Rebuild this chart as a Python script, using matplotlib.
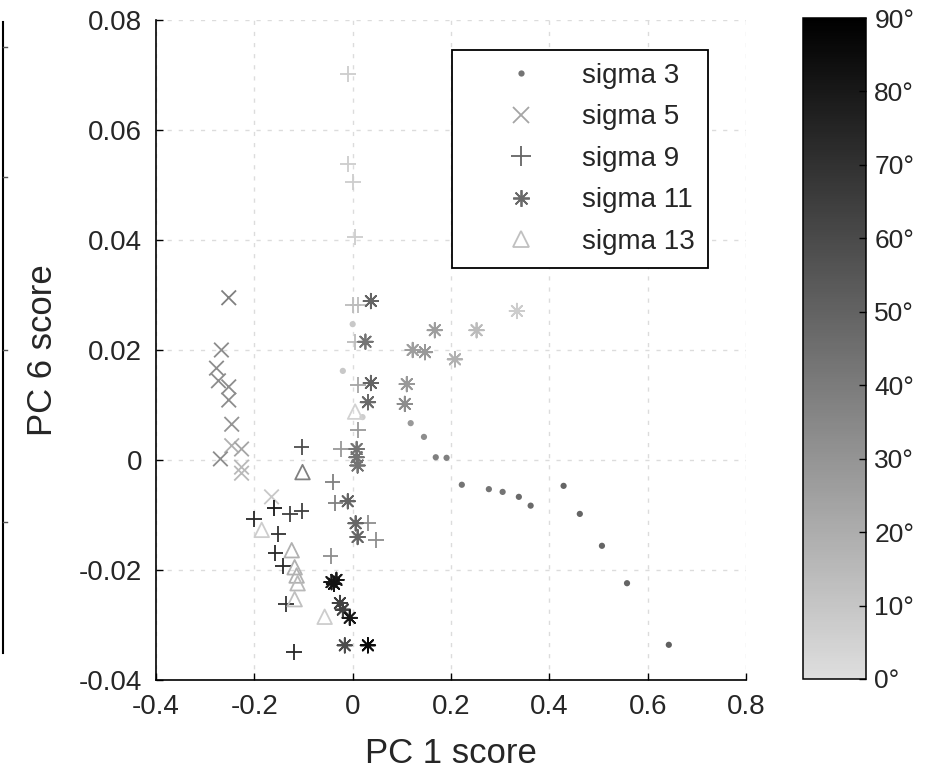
import numpy as np
import matplotlib
matplotlib.use('Agg')
import matplotlib.pyplot as plt
from matplotlib.colors import LinearSegmentedColormap, Normalize
from matplotlib.lines import Line2D
import matplotlib.cm as cm

plt.rcParams['font.family'] = ['Liberation Sans', 'DejaVu Sans']
plt.rcParams['axes.unicode_minus'] = False

# sigma 3 (dots)
s3_x = [0.000, -0.020, 0.020, 0.118, 0.145, 0.169, 0.191, 0.222, 0.277, 0.305,
        0.338, 0.362, 0.429, 0.462, 0.507, 0.558, 0.643]
s3_y = [0.0247, 0.0162, 0.0078, 0.0067, 0.0042, 0.0005, 0.0004, -0.0045, -0.0053, -0.0058,
        -0.0067, -0.0083, -0.0047, -0.0098, -0.0156, -0.0224, -0.0336]
s3_c = [9, 9, 7, 28, 33, 38, 38, 43, 43, 43, 47, 47, 49, 49, 49, 49, 51]

# sigma 5 (x)
s5_x = [-0.252, -0.267, -0.277, -0.273, -0.252, -0.252, -0.246, -0.246, -0.226,
        -0.269, -0.226, -0.226, -0.165]
s5_y = [0.0295, 0.0200, 0.0167, 0.0144, 0.0133, 0.0109, 0.0065, 0.0026, 0.0020,
        0.0002, -0.0013, -0.0024, -0.0067]
s5_c = [38, 33, 33, 33, 33, 33, 30, 18, 23, 33, 15, 15, 9]

# sigma 9 (+)
s9_x = [-0.010, -0.010, 0.000, 0.004, 0.000, 0.010, 0.004, 0.010, 0.010, -0.024,
        -0.041, -0.035, 0.031, 0.047, -0.045, -0.104, -0.159, -0.200, -0.128,
        -0.104, -0.151, -0.157, -0.141, -0.136, -0.120]
s9_y = [0.0702, 0.0538, 0.0505, 0.0405, 0.0282, 0.0282, 0.0215, 0.0136, 0.0055, 0.0020,
        -0.0040, -0.0078, -0.0115, -0.0145, -0.0175, 0.0024, -0.0087, -0.0107, -0.0098,
        -0.0093, -0.0135, -0.0169, -0.0192, -0.0262, -0.0349]
s9_c = [7, 7, 7, 7, 14, 14, 14, 23, 28, 28,
        38, 38, 33, 33, 33, 59, 80, 74, 64,
        64, 69, 74, 74, 69, 74]

# sigma 11 (*)
s11_x = [0.037, 0.026, 0.037, 0.031, 0.334, 0.252, 0.167, 0.122, 0.147, 0.208,
         0.110, 0.106, 0.008, 0.008, 0.010, -0.010, 0.006, 0.010, -0.043, -0.033,
         -0.038, -0.026, -0.020, -0.006, -0.016, 0.031]
s11_y = [0.0289, 0.0215, 0.0140, 0.0105, 0.0271, 0.0236, 0.0236, 0.0200, 0.0196, 0.0183,
         0.0138, 0.0102, 0.0020, 0.0005, -0.0010, -0.0075, -0.0115, -0.0140, -0.0222, -0.0218,
         -0.0225, -0.0260, -0.0272, -0.0287, -0.0337, -0.0337]
s11_c = [49, 43, 49, 47, 7, 14, 26, 26, 28, 18,
         28, 33, 43, 43, 43, 49, 49, 49, 80, 80,
         82, 64, 64, 80, 59, 85]

# sigma 13 (triangles)
s13_x = [-0.102, -0.185, -0.124, -0.118, -0.114, -0.112, -0.118, -0.057, 0.005]
s13_y = [-0.0022, -0.0127, -0.0164, -0.0195, -0.0210, -0.0224, -0.0253, -0.0285, 0.0088]
s13_c = [38, 7, 18, 18, 18, 15, 12, 7, 5]

legend_labels = ['sigma 3', 'sigma 5', 'sigma 9', 'sigma 11', 'sigma 13']
legend_c = [43, 23, 49, 47, 12]

xticks = [-0.4, -0.2, 0, 0.2, 0.4, 0.6, 0.8]
xticklabels = ['-0.4', '-0.2', '0', '0.2', '0.4', '0.6', '0.8']
yticks = [-0.04, -0.02, 0, 0.02, 0.04, 0.06, 0.08]
yticklabels = ['-0.04', '-0.02', '0', '0.02', '0.04', '0.06', '0.08']
cticks = [0, 10, 20, 30, 40, 50, 60, 70, 80, 90]
cticklabels = ['%d\u00b0' % t for t in cticks]

cmap = LinearSegmentedColormap.from_list('grayr', [(0.87, 0.87, 0.87), (0, 0, 0)])
norm = Normalize(0, 90)
txt = '#262626'

fig = plt.figure(figsize=(9.34, 7.82), dpi=100)
ax = fig.add_axes([156/934, 102/782, 590/934, 660/782])

asterisk = (8, 2, 0)
ax.scatter(s3_x, s3_y, s=20, c=cmap(norm(s3_c)), marker='o', linewidths=0, zorder=3)
ax.scatter(s5_x, s5_y, s=110, c=cmap(norm(s5_c)), marker='x', linewidths=1.3, zorder=3)
ax.scatter(s9_x, s9_y, s=130, c=cmap(norm(s9_c)), marker='+', linewidths=1.3, zorder=3)
ax.scatter(s11_x, s11_y, s=110, c=cmap(norm(s11_c)), marker=asterisk, linewidths=1.3, zorder=3)
ax.scatter(s13_x, s13_y, s=110, facecolors='none', edgecolors=cmap(norm(s13_c)),
           marker='^', linewidths=1.3, zorder=3)

ax.set_xlim(-0.4, 0.8)
ax.set_ylim(-0.04, 0.08)
ax.set_xticks(xticks)
ax.set_xticklabels(xticklabels)
ax.set_yticks(yticks)
ax.set_yticklabels(yticklabels)
ax.tick_params(direction='in', length=5, width=1, labelsize=20, colors='black',
               labelcolor=txt, pad=10)
ax.spines['top'].set_visible(False)
ax.spines['right'].set_visible(False)
ax.spines['left'].set_linewidth(1.2)
ax.spines['bottom'].set_linewidth(1.2)
ax.grid(True, linestyle=(0, (3, 5)), color='#dcdcdc', linewidth=1)
ax.set_axisbelow(True)
ax.set_xlabel('PC 1 score', fontsize=25, color=txt, labelpad=12)
ax.set_ylabel('PC 6 score', fontsize=25, color=txt, labelpad=14)

handles = [
    Line2D([], [], linestyle='none', marker='o', markersize=4.5, markeredgewidth=0,
           color=cmap(norm(legend_c[0]))),
    Line2D([], [], linestyle='none', marker='x', markersize=12, markeredgewidth=1.3,
           color=cmap(norm(legend_c[1]))),
    Line2D([], [], linestyle='none', marker='+', markersize=14, markeredgewidth=1.3,
           color=cmap(norm(legend_c[2]))),
    Line2D([], [], linestyle='none', marker=asterisk, markersize=12, markeredgewidth=1.3,
           color=cmap(norm(legend_c[3]))),
    Line2D([], [], linestyle='none', marker='^', markersize=12, markeredgewidth=1.3,
           markerfacecolor='none', color=cmap(norm(legend_c[4]))),
]
leg = ax.legend(handles, legend_labels, loc='upper left', bbox_to_anchor=(0.502, 0.955),
                borderaxespad=0, fontsize=20, fancybox=False, framealpha=1,
                edgecolor='black', labelspacing=0.56, handlelength=4.0,
                handletextpad=0.2, borderpad=0.47)
leg.get_frame().set_linewidth(1.3)
for t in leg.get_texts():
    t.set_color(txt)

cax = fig.add_axes([803/934, 103/782, 63/934, 661/782])
cb = fig.colorbar(cm.ScalarMappable(norm=norm, cmap=cmap), cax=cax)
cb.set_ticks(cticks)
cb.set_ticklabels(cticklabels)
cb.ax.tick_params(direction='in', length=5, width=1, labelsize=19, labelcolor=txt, pad=6)
cb.outline.set_linewidth(1.1)

# clipped edge of a neighbouring panel on the far left
fig.add_artist(Line2D([3/934, 3/934], [1 - 22/782, 1 - 653/782], color='black', linewidth=1.5))
for yy in [47, 177, 350, 522]:
    fig.add_artist(Line2D([3/934, 7/934], [1 - yy/782, 1 - yy/782], color='#555555', linewidth=1))

fig.savefig('out.png', dpi=100)
